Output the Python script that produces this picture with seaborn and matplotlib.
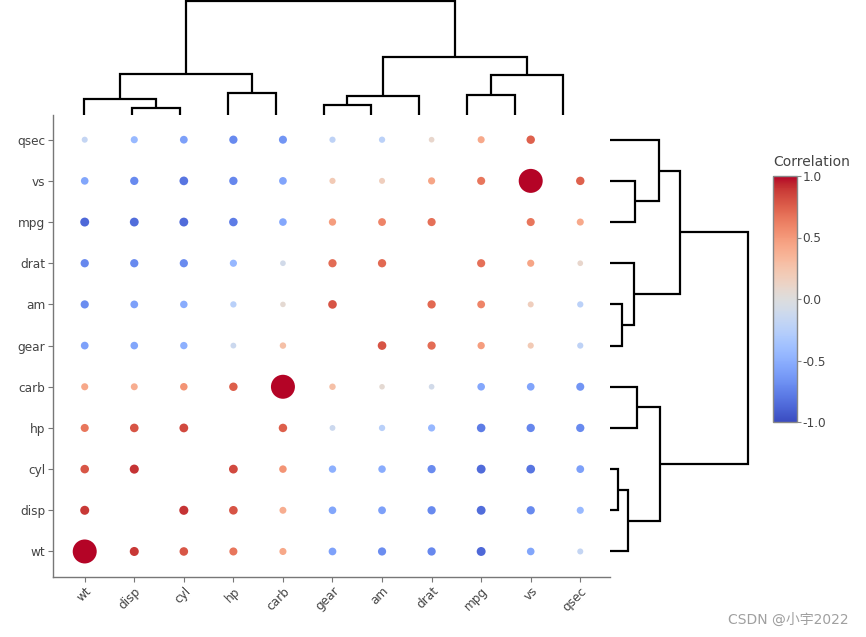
import numpy as np
import pandas as pd
import matplotlib
matplotlib.use("Agg")
import matplotlib.pyplot as plt
import seaborn as sns

# ---------------- data ----------------
variables = ["wt", "disp", "cyl", "hp", "carb", "gear", "am", "drat", "mpg", "vs", "qsec"]

r_wt   = [1.000, 0.888, 0.782, 0.659, 0.428, -0.583, -0.692, -0.712, -0.868, -0.555, -0.175]
r_disp = [0.888, 1.000, 0.902, 0.791, 0.395, -0.556, -0.591, -0.710, -0.848, -0.710, -0.434]
r_cyl  = [0.782, 0.902, 1.000, 0.832, 0.527, -0.493, -0.523, -0.700, -0.852, -0.811, -0.591]
r_hp   = [0.659, 0.791, 0.832, 1.000, 0.750, -0.126, -0.243, -0.449, -0.776, -0.723, -0.708]
r_carb = [0.428, 0.395, 0.527, 0.750, 1.000, 0.274, 0.058, -0.091, -0.551, -0.570, -0.656]
r_gear = [-0.583, -0.556, -0.493, -0.126, 0.274, 1.000, 0.794, 0.700, 0.480, 0.206, -0.213]
r_am   = [-0.692, -0.591, -0.523, -0.243, 0.058, 0.794, 1.000, 0.713, 0.600, 0.168, -0.230]
r_drat = [-0.712, -0.710, -0.700, -0.449, -0.091, 0.700, 0.713, 1.000, 0.681, 0.440, 0.091]
r_mpg  = [-0.868, -0.848, -0.852, -0.776, -0.551, 0.480, 0.600, 0.681, 1.000, 0.664, 0.419]
r_vs   = [-0.555, -0.710, -0.811, -0.723, -0.570, 0.206, 0.168, 0.440, 0.664, 1.000, 0.745]
r_qsec = [-0.175, -0.434, -0.591, -0.708, -0.656, -0.213, -0.230, 0.091, 0.419, 0.745, 1.000]

rows = [r_wt, r_disp, r_cyl, r_hp, r_carb, r_gear, r_am, r_drat, r_mpg, r_vs, r_qsec]

# diagonal cells that are drawn (as large points)
diag_shown = ["wt", "carb", "vs"]

# dendrograms: (left, right, merge height)
col_tree = ((("wt", ("disp", "cyl", 6.7), 15.7), ("hp", "carb", 22.3), 41.0),
            ((("gear", "am", 9.7), "drat", 19.3), (("mpg", "vs", 20.0), "qsec", 40.0), 58.0),
            115.0)
row_tree = ((("carb", "hp", 27.0), (("cyl", "disp", 8.0), "wt", 18.0), 50.0),
            (("qsec", ("vs", "mpg", 25.0), 49.0), ("drat", ("am", "gear", 12.0), 24.0), 70.0),
            138.0)

# ---------------- build table ----------------
recs = []
for i, rname in enumerate(variables):
    for j, cname in enumerate(variables):
        r = rows[i][j]
        if i == j:
            if rname not in diag_shown:
                continue
            d_px = 24.0
        else:
            d_px = 5.3 + 4.2 * abs(r)
        recs.append(dict(x=j, y=i, r=r, area=(d_px * 0.72) ** 2))
df = pd.DataFrame(recs)

# ---------------- figure ----------------
sns.set_theme(style="white")
plt.rcParams["font.family"] = ["DejaVu Sans", "Noto Sans CJK SC"]

W, H = 866, 637
fig = plt.figure(figsize=(W / 100, H / 100), dpi=100)

def fax(x0, y0, x1, y1):
    return fig.add_axes([x0 / W, 1 - y1 / H, (x1 - x0) / W, (y1 - y0) / H])

ax = fax(53, 115, 610, 577)
amin, amax = df["area"].min(), df["area"].max()
sns.scatterplot(data=df, x="x", y="y", hue="r", palette="coolwarm",
                hue_norm=(-1, 1), size="area", sizes=(amin, amax),
                size_norm=(amin, amax), linewidth=0, legend=False, ax=ax)
ax.set_xlim(-0.64, 10.6)
ax.set_ylim(-0.62, 10.6)
ax.set_xticks(range(len(variables)))
ax.set_xticklabels(variables, rotation=45, ha="right", rotation_mode="anchor")
ax.set_yticks(range(len(variables)))
ax.set_yticklabels(variables)
ax.set_xlabel("")
ax.set_ylabel("")
for s in ["top", "right"]:
    ax.spines[s].set_visible(False)
for s in ["left", "bottom"]:
    ax.spines[s].set_color("#777777")
    ax.spines[s].set_linewidth(1.0)
ax.tick_params(axis="both", which="both", direction="out", length=3.5, width=0.8,
               color="#777777", labelsize=8.7, labelcolor="#444444", pad=2,
               bottom=True, left=True)
ax.grid(False)
ax.patch.set_alpha(0)

# ---------------- dendrograms ----------------
pos = {v: k for k, v in enumerate(variables)}

def draw(a, node, orient):
    if isinstance(node, str):
        return pos[node], 0.0
    left, right, h = node
    pa, ha = draw(a, left, orient)
    pb, hb = draw(a, right, orient)
    xs = [pa, pa, pb, pb]
    ys = [ha, h, h, hb]
    if orient == "top":
        a.plot(xs, ys, color="black", lw=1.6, solid_capstyle="butt", solid_joinstyle="miter")
    else:
        a.plot(ys, xs, color="black", lw=1.6, solid_capstyle="butt", solid_joinstyle="miter")
    return (pa + pb) / 2, h

axt = fax(55, 0, 610, 115)
draw(axt, col_tree, "top")
axt.set_xlim(-0.605, 10.98)
axt.set_ylim(0, 115.6)
axt.axis("off")

axr = fax(610, 115, 750, 577)
draw(axr, row_tree, "right")
axr.set_xlim(0, 140)
axr.set_ylim(-0.62, 10.6)
axr.axis("off")

# ---------------- colorbar ----------------
cax = fax(773, 176, 797, 422)
sm = plt.cm.ScalarMappable(norm=plt.Normalize(-1, 1), cmap="coolwarm")
cb = fig.colorbar(sm, cax=cax, ticks=[-1, -0.5, 0, 0.5, 1])
cb.ax.set_yticklabels(["-1.0", "-0.5", "0.0", "0.5", "1.0"])
cb.outline.set_edgecolor("#888888")
cb.outline.set_linewidth(1.0)
cb.ax.tick_params(length=3, width=0.8, color="#888888", labelsize=8.7,
                  labelcolor="#444444", pad=1)
fig.text(773 / W, 1 - 162 / H, "Correlation", fontsize=10, color="#444444",
         ha="left", va="center")

# watermark
fig.text(849 / W, 1 - 620 / H, "CSDN @小宇2022", fontsize=10, color="#a0a0a0",
         ha="right", va="center")

fig.savefig("out.png", dpi=100)
